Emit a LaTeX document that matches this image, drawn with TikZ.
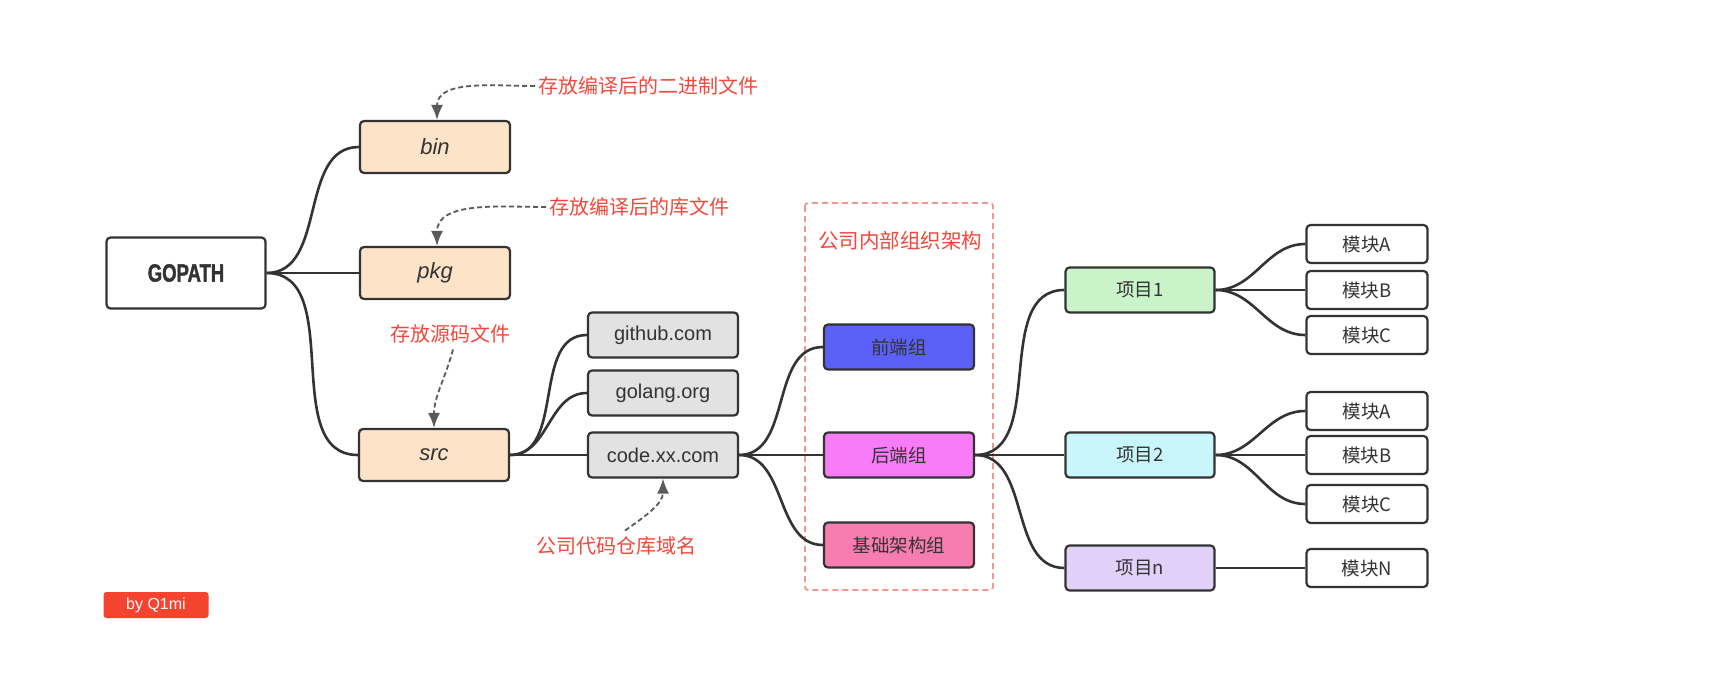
\documentclass[tikz,border=0pt]{standalone}
\usepackage{fontspec}
\setmainfont{Liberation Sans}
\newfontfamily\cjk{Noto Sans CJK SC}
\newfontfamily\gofont[FakeStretch=0.74, BoldFeatures={FakeBold=1.6}]{Liberation Sans}
\usetikzlibrary{arrows.meta}
\definecolor{linec}{HTML}{333333}
\definecolor{txtc}{HTML}{333333}
\definecolor{peach}{HTML}{FDE3C8}
\definecolor{grayf}{HTML}{E2E2E2}
\definecolor{bluef}{HTML}{5A60F8}
\definecolor{magf}{HTML}{F87CF8}
\definecolor{pinkf}{HTML}{F77DB0}
\definecolor{greenf}{HTML}{C9F3C9}
\definecolor{cyanf}{HTML}{C8F6FA}
\definecolor{lavf}{HTML}{E1D1FA}
\definecolor{redt}{HTML}{F2483C}
\definecolor{redbox}{HTML}{F5968C}
\definecolor{annc}{HTML}{5A5A5A}
\definecolor{badge}{HTML}{F4432F}
\tikzset{
  box/.style={draw=linec, line width=2.2pt, rounded corners=4pt, text=txtc, inner sep=0pt},
  dirbox/.style={box, fill=peach, minimum width=150pt, minimum height=52pt, font=\fontsize{22}{24}\selectfont\itshape},
  hostbox/.style={box, fill=grayf, minimum width=150pt, minimum height=45pt, font=\fontsize{20}{22}\selectfont},
  grpbox/.style={box, minimum width=150pt, minimum height=45pt, font=\cjk\fontsize{18.5}{20}\selectfont},
  projbox/.style={box, minimum width=149pt, minimum height=45pt, font=\cjk\fontsize{18.5}{20}\selectfont},
  modbox/.style={box, fill=white, minimum width=121pt, minimum height=38pt, font=\cjk\fontsize{18.5}{20}\selectfont},
  conn/.style={draw=linec, line width=2.6pt},
  ann/.style={draw=annc, line width=1.8pt, dash pattern=on 5pt off 3pt, -{Latex[length=15pt,width=12pt]}},
  anntext/.style={text=redt, font=\cjk\fontsize{20}{22}\selectfont, inner sep=0pt},
}
\begin{document}
\begin{tikzpicture}[x=1pt, y=-1pt]
\useasboundingbox (0,0) rectangle (1715,690);
\fill[white] (0,0) rectangle (1715,690);

% dashed group frame
\draw[draw=redbox, line width=1.8pt, dash pattern=on 6pt off 4pt, rounded corners=3pt] (805,203) rectangle (993,590);
\node[anntext, font=\cjk\fontsize{20.5}{22}\selectfont] (orglbl) at (900,241) {公司内部组织架构};

% nodes
\node[box, fill=white, minimum width=159pt, minimum height=71pt, font=\gofont\bfseries\fontsize{25}{27}\selectfont] (gopath) at (186,273) {GOPATH};
\node[dirbox] (bin) at (435,147) {bin};
\node[dirbox] (pkg) at (435,273) {pkg};
\node[dirbox] (src) at (434,455) {src};
\node[hostbox] (github) at (663,335) {github.com};
\node[hostbox] (golang) at (663,393) {golang.org};
\node[hostbox] (code) at (663,455) {code.xx.com};
\node[grpbox, fill=bluef] (fe) at (899,347) {前端组};
\node[grpbox, fill=magf] (be) at (899,455) {后端组};
\node[grpbox, fill=pinkf] (infra) at (899,545) {基础架构组};
\node[projbox, fill=greenf] (p1) at (1140,290) {项目1};
\node[projbox, fill=cyanf] (p2) at (1140,455) {项目2};
\node[projbox, fill=lavf] (pn) at (1140,568) {项目n};
\node[modbox] (m1a) at (1367,244) {模块A};
\node[modbox] (m1b) at (1367,290) {模块B};
\node[modbox] (m1c) at (1367,335) {模块C};
\node[modbox] (m2a) at (1367,411) {模块A};
\node[modbox] (m2b) at (1367,455) {模块B};
\node[modbox] (m2c) at (1367,504) {模块C};
\node[modbox] (mn) at (1367,568) {模块N};

% connectors
\draw[conn] (gopath.east) to[out=0,in=180] (bin.west);
\draw[conn] (gopath.east) -- (pkg.west);
\draw[conn] (gopath.east) to[out=0,in=180] (src.west);
\draw[conn] (src.east) to[out=0,in=180] (github.west);
\draw[conn] (src.east) to[out=0,in=180] (golang.west);
\draw[conn] (src.east) -- (code.west);
\draw[conn] (code.east) to[out=0,in=180] (fe.west);
\draw[conn] (code.east) -- (be.west);
\draw[conn] (code.east) to[out=0,in=180] (infra.west);
\draw[conn] (be.east) to[out=0,in=180] (p1.west);
\draw[conn] (be.east) -- (p2.west);
\draw[conn] (be.east) to[out=0,in=180] (pn.west);
\draw[conn] (p1.east) to[out=0,in=180] (m1a.west);
\draw[conn] (p1.east) -- (m1b.west);
\draw[conn] (p1.east) to[out=0,in=180] (m1c.west);
\draw[conn] (p2.east) to[out=0,in=180] (m2a.west);
\draw[conn] (p2.east) -- (m2b.west);
\draw[conn] (p2.east) to[out=0,in=180] (m2c.west);
\draw[conn] (pn.east) -- (mn.west);

% annotations
\node[anntext, anchor=west] (t1) at (538,86) {存放编译后的二进制文件};
\node[anntext, anchor=west] (t2) at (549,207) {存放编译后的库文件};
\node[anntext] (t3) at (450,334) {存放源码文件};
\node[anntext] (t4) at (616,546) {公司代码仓库域名};
\draw[ann] ([xshift=-3pt]t1.west) to[out=180,in=90] ([xshift=2pt]bin.north);
\draw[ann] ([xshift=-3pt]t2.west) to[out=180,in=90] ([xshift=2pt]pkg.north);
\draw[ann] ([xshift=3pt,yshift=-6pt]t3.south) to[out=-105,in=90] (src.north);
\draw[ann] ([xshift=9pt,yshift=6pt]t4.north) to[out=35,in=-90] (code.south);

% badge
\node[fill=badge, rounded corners=3pt, minimum width=105pt, minimum height=26pt, inner sep=0pt, text=white, font=\fontsize{16}{18}\selectfont] (badge) at (156,605) {by Q1mi};
\end{tikzpicture}
\end{document}
